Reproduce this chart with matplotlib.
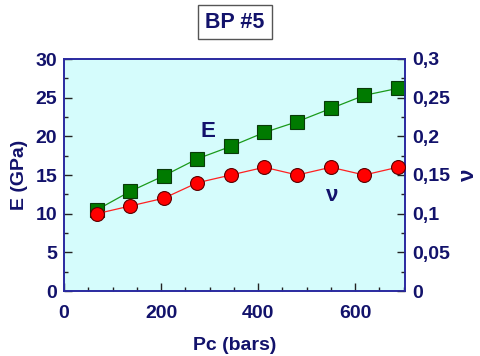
import numpy as np
import matplotlib
matplotlib.use("Agg")
import matplotlib.pyplot as plt
from matplotlib.ticker import MultipleLocator, FuncFormatter

# data
pc = [68, 137, 206, 275, 344, 413, 481, 550, 619, 688]
E = [10.5, 12.9, 14.9, 17.1, 18.7, 20.5, 21.9, 23.6, 25.3, 26.2]
nu = [0.10, 0.11, 0.12, 0.14, 0.15, 0.16, 0.15, 0.16, 0.15, 0.16]

navy = '#12126b'
spine_col = '#2a2aa0'

plt.rcParams['font.family'] = ['Liberation Sans', 'DejaVu Sans']
plt.rcParams['font.weight'] = 'bold'

fig = plt.figure(figsize=(4.81, 3.56), dpi=100)
ax = fig.add_axes([64 / 481, 1 - 291 / 356, 341 / 481, 232 / 356])
ax.set_facecolor('#d5fcfc')

ax.plot(pc, E, color='#1a9a1a', lw=0.9, marker='s', ms=10,
        mfc='#007a00', mec='#0a3a0a', mew=0.8, zorder=3)
ax.set_xlim(0, 703)
ax.set_ylim(0, 30)

ax2 = ax.twinx()
ax2.plot(pc, nu, color='#ff2020', lw=0.9, marker='o', ms=10,
         mfc='#ff0000', mec='#5a0000', mew=0.8, zorder=3)
ax2.set_ylim(0, 0.3)

comma = FuncFormatter(lambda v, p: ('%g' % round(v, 3)).replace('.', ','))

for a in (ax, ax2):
    for s in a.spines.values():
        s.set_color(spine_col)
        s.set_linewidth(1.2)
    a.tick_params(which='both', direction='in', colors='#222222',
                  labelcolor=navy, labelsize=14)
    a.tick_params(which='major', length=6, width=1)
    a.tick_params(which='minor', length=3, width=1)

ax.xaxis.set_major_locator(MultipleLocator(200))
ax.xaxis.set_minor_locator(MultipleLocator(50))
ax.yaxis.set_major_locator(MultipleLocator(5))
ax.yaxis.set_minor_locator(MultipleLocator(2.5))
ax2.yaxis.set_major_locator(MultipleLocator(0.05))
ax2.yaxis.set_minor_locator(MultipleLocator(0.025))
ax2.yaxis.set_major_formatter(comma)
ax.tick_params(axis='x', pad=10)
ax.tick_params(axis='y', pad=5)
ax2.tick_params(axis='y', pad=5)

ax.set_xlabel('Pc (bars)', color=navy, fontsize=14, fontweight='bold', labelpad=11)
ax.set_ylabel('E (GPa)', color=navy, fontsize=14, fontweight='bold', labelpad=5)
ax2.set_ylabel('ν', color=navy, fontsize=16, fontweight='bold', labelpad=6)

ax.text(297, 20.6, 'E', color=navy, fontsize=16, fontweight='bold',
        ha='center', va='center')
ax2.text(553, 0.124, 'ν', color=navy, fontsize=16, fontweight='bold',
         ha='center', va='center')

fig.text(235 / 481, 1 - 22 / 356, 'BP #5', color=navy, fontsize=15.5,
         fontweight='bold', ha='center', va='center',
         bbox=dict(facecolor='white', edgecolor='#555555', lw=1, pad=5))

fig.savefig('out.png', dpi=100)
